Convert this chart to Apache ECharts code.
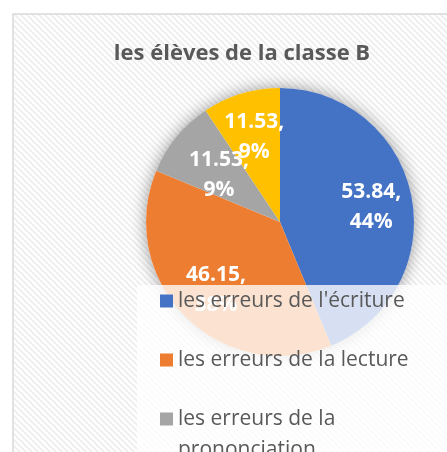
<!DOCTYPE html>
<html>
<head>
<meta charset="utf-8">
<script src="https://cdn.jsdelivr.net/npm/echarts@6/dist/echarts.min.js"></script>
<style>
  html, body { margin: 0; padding: 0; background: #fff; }
  #chart { width: 447px; height: 452px; }
</style>
</head>
<body>
<div id="chart"></div>
<script>
// data
var titleText = 'les élèves de la classe B'
var categories = [
  "les erreurs de l'écriture",
  'les erreurs de la lecture',
  'les erreurs de la prononciation',
  'les erreurs de la grammaire'
]
var values = [53.84, 46.15, 11.53, 11.53]
var colors = ['#4472c4', '#ed7d31', '#a5a5a5', '#ffc000']

var total = values.reduce(function (a, b) { return a + b }, 0)

// light diagonal stripes for the plot background
var stripe = document.createElement('canvas')
stripe.width = 6
stripe.height = 6
var ctx = stripe.getContext('2d')
ctx.fillStyle = '#ffffff'
ctx.fillRect(0, 0, 6, 6)
ctx.strokeStyle = '#efefef'
ctx.lineWidth = 2
ctx.beginPath()
ctx.moveTo(-1, -1); ctx.lineTo(7, 7)
ctx.moveTo(-4, 2); ctx.lineTo(4, 10)
ctx.moveTo(2, -4); ctx.lineTo(10, 4)
ctx.stroke()

var pieData = categories.map(function (name, i) {
  return { name: name, value: values[i], itemStyle: { color: colors[i] } }
})

// the long legend entry wraps like in Excel: first line stays next to the
// square, the rest goes on the line below
var wrapAt = 'les erreurs de la'

var myChart = echarts.init(document.getElementById('chart'))

var option = {
  animation: false,
  color: colors,
  graphic: [
    {
      type: 'rect',
      z: -10,
      shape: { x: 13, y: 14, width: 470, height: 470 },
      style: { fill: { image: stripe, repeat: 'repeat' }, stroke: '#d9d9d9', lineWidth: 1.5 }
    },
    {
      type: 'text',
      z: 10,
      silent: true,
      left: 178,
      top: 440,
      style: {
        text: categories[2].slice(wrapAt.length + 1),
        font: '21px "Open Sans"',
        fill: '#595959'
      }
    }
  ],
  title: {
    text: titleText,
    left: 237,
    textAlign: 'center',
    top: 38,
    textStyle: {
      fontFamily: 'Open Sans',
      fontSize: 22,
      fontWeight: 'bold',
      color: '#595959'
    }
  },
  legend: {
    orient: 'vertical',
    left: 137,
    top: 285,
    height: 600,
    padding: [1, 36, 0, 23],
    backgroundColor: 'rgba(255,255,255,0.78)',
    itemWidth: 13,
    itemHeight: 13,
    itemGap: 29,
    icon: 'rect',
    data: categories,
    formatter: function (name) {
      return name === categories[2] ? wrapAt : name
    },
    textStyle: {
      fontFamily: 'Open Sans',
      fontSize: 21,
      color: '#595959',
      lineHeight: 30
    }
  },
  series: [
    {
      // soft shadow under the whole pie
      type: 'pie',
      silent: true,
      center: [280, 222],
      radius: [0, 134],
      label: { show: false },
      data: [{ name: '', value: 1, itemStyle: { color: '#fff', shadowBlur: 16, shadowColor: 'rgba(0,0,0,0.4)' } }],
      z: 1
    },
    {
      type: 'pie',
      center: [280, 222],
      radius: [0, 134],
      startAngle: 90,
      clockwise: true,
      label: { show: false },
      labelLine: { show: false },
      itemStyle: { borderWidth: 0 },
      data: pieData,
      z: 2
    },
    {
      // invisible ring used only to place the labels further out
      type: 'pie',
      silent: true,
      center: [281, 225],
      radius: [0, 178],
      startAngle: 90,
      clockwise: true,
      avoidLabelOverlap: false,
      labelLayout: function (params) {
        // best-fit nudge for the small grey slice
        if (params.dataIndex === 2) return { dx: 9, dy: 8, hideOverlap: false }
        return { hideOverlap: false }
      },
      itemStyle: { color: 'rgba(0,0,0,0)' },
      label: {
        show: true,
        position: 'inside',
        fontFamily: 'Open Sans',
        fontSize: 21,
        fontWeight: 'bold',
        color: '#fff',
        lineHeight: 30,
        formatter: function (p) {
          return p.value + ',\n' + Math.round(p.value / total * 100) + '%'
        }
      },
      data: categories.map(function (name, i) { return { name: name, value: values[i] } }),
      z: 2
    }
  ]
}

myChart.setOption(option)
</script>
</body>
</html>
